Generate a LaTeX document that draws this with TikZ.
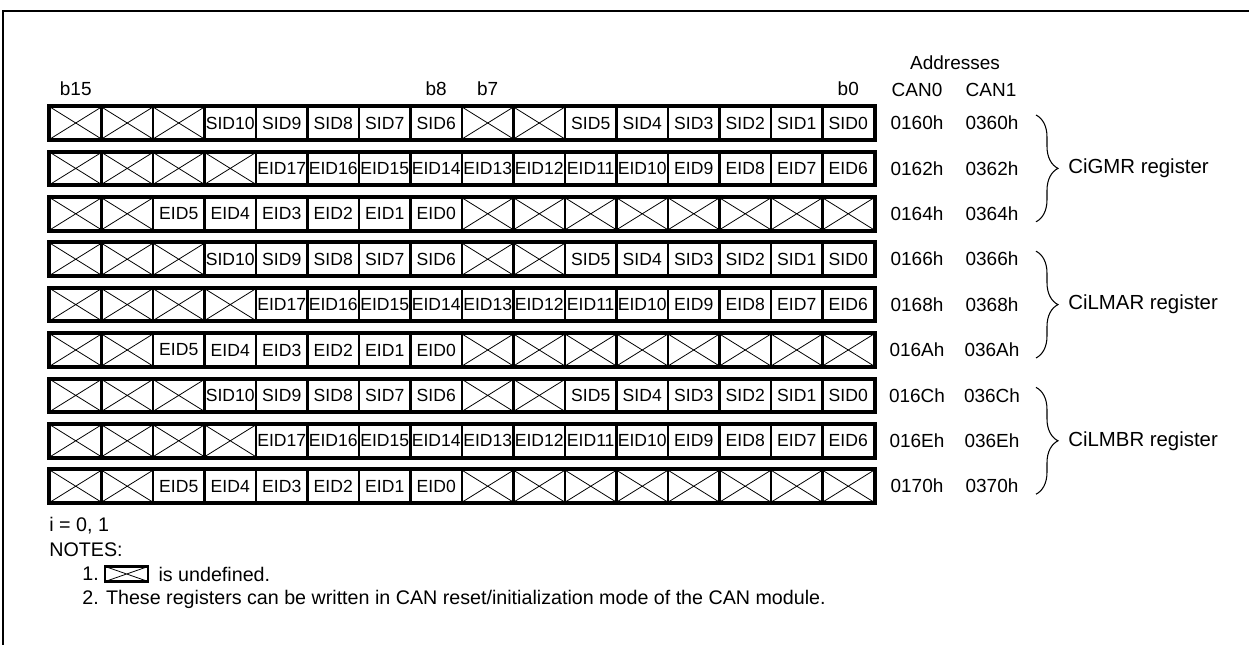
\documentclass[tikz,border=0pt]{standalone}
\usepackage{fontspec}
\setmainfont{Liberation Sans}
\usetikzlibrary{positioning,decorations.pathreplacing}

\tikzset{
  bitcell/.style={draw, line width=1.4pt, minimum width=1.03cm, minimum height=0.64cm,
    inner sep=0pt, font=\fontsize{10}{11}\selectfont},
  undefcell/.style={bitcell, path picture={\draw[line width=0.45pt]
    (path picture bounding box.north west) -- (path picture bounding box.south east)
    (path picture bounding box.south west) -- (path picture bounding box.north east);}},
  rowframe/.style={line width=1.8pt},
  frameline/.style={line width=1.1pt},
  lbl/.style={font=\fontsize{10.8}{12}\selectfont, inner sep=0pt},
  note/.style={font=\fontsize{11.2}{13}\selectfont, inner sep=0pt, anchor=west},
  reglbl/.style={font=\fontsize{11.6}{13}\selectfont, inner sep=0pt, anchor=west},
  regbrace/.style={decorate, decoration={brace, amplitude=0.44cm}, line width=0.6pt},
}

\begin{document}
\begin{tikzpicture}[x=0.02cm, y=-0.02cm]
    \useasboundingbox (0,0) rectangle (1249,645);
    \draw [frameline] (3,645) -- (3,11) -- (1249,11);

    % SID rows
    \foreach \r in {1,4,7} {
        \foreach \i in {0,1,2,8,9}
            \node [undefcell] (r\r-\i) at ({50+51.5*(\i+0.5)},{123+45.4*(\r-1)}) {};
        \foreach \i/\t in {3/SID10,4/SID9,5/SID8,6/SID7,7/SID6,10/SID5,11/SID4,12/SID3,13/SID2,14/SID1,15/SID0}
            \node [bitcell] (r\r-\i) at ({50+51.5*(\i+0.5)},{123+45.4*(\r-1)}) {\t};
        \draw [rowframe] (r\r-0.north west) rectangle (r\r-15.south east);
    }

    % EID17..EID6 rows
    \foreach \r in {2,5,8} {
        \foreach \i in {0,1,2,3}
            \node [undefcell] (r\r-\i) at ({50+51.5*(\i+0.5)},{123+45.4*(\r-1)}) {};
        \foreach \i/\t in {4/EID17,5/EID16,6/EID15,7/EID14,8/EID13,9/EID12,10/EID11,11/EID10,12/EID9,13/EID8,14/EID7,15/EID6}
            \node [bitcell] (r\r-\i) at ({50+51.5*(\i+0.5)},{123+45.4*(\r-1)}) {\t};
        \draw [rowframe] (r\r-0.north west) rectangle (r\r-15.south east);
    }

    % EID5..EID0 rows
    \foreach \r in {3,6,9} {
        \foreach \i in {0,1,8,9,10,11,12,13,14,15}
            \node [undefcell] (r\r-\i) at ({50+51.5*(\i+0.5)},{123+45.4*(\r-1)}) {};
        \foreach \i/\t in {2/EID5,3/EID4,4/EID3,5/EID2,6/EID1,7/EID0}
            \node [bitcell] (r\r-\i) at ({50+51.5*(\i+0.5)},{123+45.4*(\r-1)}) {\t};
        \draw [rowframe] (r\r-0.north west) rectangle (r\r-15.south east);
    }

    % bit numbers and address heads
    \node [lbl, above=0.2cm of r1-0] (b15) {b15};
    \node [lbl, above=0.2cm of r1-7] (b8) {b8};
    \node [lbl, above=0.2cm of r1-8] (b7) {b7};
    \node [lbl, above=0.2cm of r1-15] (b0) {b0};
    \node [lbl] (can0) at (917,90) {CAN0};
    \node [lbl] (can1) at (991,90) {CAN1};
    \node [lbl] (addr) at (955,63) {Addresses};

    % addresses
    \foreach \r/\ca/\cb in {1/0160h/0360h,2/0162h/0362h,3/0164h/0364h,4/0166h/0366h,5/0168h/0368h,
                            6/016Ah/036Ah,7/016Ch/036Ch,8/016Eh/036Eh,9/0170h/0370h} {
        \node [lbl] (a0-\r) at (917,{123+45.4*(\r-1)}) {\ca};
        \node [lbl] (a1-\r) at (992,{123+45.4*(\r-1)}) {\cb};
    }

    % register braces
    \foreach \r/\reg in {1/CiGMR,4/CiLMAR,7/CiLMBR} {
        \draw [regbrace] (1036,{123+45.4*(\r-1)-8}) -- (1036,{123+45.4*(\r+1)+8});
        \node [reglbl] (\reg) at (1068,{123+45.4*\r}) {\reg\ register};
    }

    % notes
    \node [note] (iline) at (49,526) {i = 0, 1};
    \node [note] (notes) at (49,550) {NOTES:};
    \node [note] (n1) at (82,574) {1.};
    \node [undefcell, minimum width=0.86cm, minimum height=0.3cm, line width=1.2pt, right=0.1cm of n1] (n1box) {};
    \node [note, right=0.18cm of n1box] (n1txt) {is undefined.};
    \node [note] (n2) at (82,599) {2. These registers can be written in CAN reset/initialization mode of the CAN module.};
\end{tikzpicture}
\end{document}
